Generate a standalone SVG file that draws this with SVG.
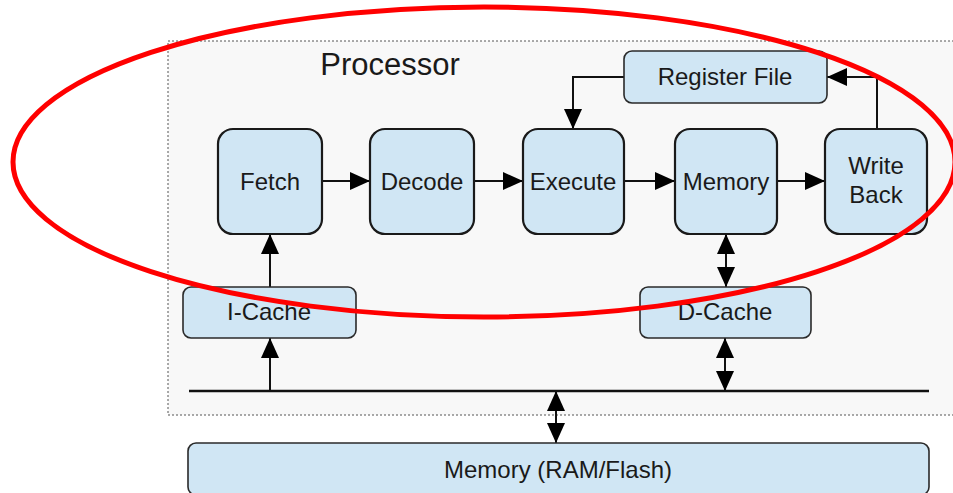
<svg xmlns="http://www.w3.org/2000/svg" width="953" height="493" viewBox="0 0 953 493">
  <defs>
    <marker id="ah" markerUnits="userSpaceOnUse" markerWidth="22" markerHeight="18" refX="20" refY="9" orient="auto-start-reverse">
      <path d="M0,0 L20,9 L0,18 Z" fill="#000"/>
    </marker>
  </defs>
  <style>
    .stage { fill: #d0e6f4; stroke: #1a1a1a; stroke-width: 2.2; }
    .unit { fill: #d0e6f4; stroke: #2a2a2a; stroke-width: 1.6; }
    .lbl { font-family: "Liberation Sans", Arial, sans-serif; font-size: 24px; fill: #1a1a1a; text-anchor: middle; }
    .wire { fill: none; stroke: #111; stroke-width: 2; }
  </style>
  <rect width="953" height="493" fill="#fff"/>

  <!-- processor boundary -->
  <g id="processor">
    <rect x="168" y="41" width="790" height="374" fill="#f8f8f8" stroke="#555" stroke-width="1" stroke-dasharray="2,2"/>
    <text x="390" y="75" class="lbl" style="font-size:31px">Processor</text>
  </g>

  <!-- connectors -->
  <g id="connectors">
    <path class="wire" d="M322,181 H370" marker-end="url(#ah)"/>
    <path class="wire" d="M474,181 H523" marker-end="url(#ah)"/>
    <path class="wire" d="M624,181 H675" marker-end="url(#ah)"/>
    <path class="wire" d="M777,181 H825" marker-end="url(#ah)"/>
    <path class="wire" d="M624,77 H573 V129" marker-end="url(#ah)"/>
    <path class="wire" d="M877,129 V77 H827" marker-end="url(#ah)"/>
    <path class="wire" d="M726,234 V287" marker-start="url(#ah)" marker-end="url(#ah)"/>
    <path class="wire" d="M270,287 V234" marker-end="url(#ah)"/>
    <path class="wire" d="M270,391 V338" marker-end="url(#ah)"/>
    <path class="wire" d="M725,338 V391" marker-start="url(#ah)" marker-end="url(#ah)"/>
    <path class="wire" d="M556,391 V443" marker-start="url(#ah)" marker-end="url(#ah)"/>
    <path id="bus" d="M189,391 H929" fill="none" stroke="#111" stroke-width="2.6"/>
  </g>

  <g id="fetch">
    <rect class="stage" x="218" y="129" width="104" height="105" rx="15"/>
    <text class="lbl" x="270" y="190">Fetch</text>
  </g>
  <g id="decode">
    <rect class="stage" x="370" y="129" width="104" height="105" rx="15"/>
    <text class="lbl" x="422" y="190">Decode</text>
  </g>
  <g id="execute">
    <rect class="stage" x="523" y="129" width="101" height="105" rx="15"/>
    <text class="lbl" x="573" y="190">Execute</text>
  </g>
  <g id="memory-stage">
    <rect class="stage" x="675" y="129" width="102" height="105" rx="15"/>
    <text class="lbl" x="726" y="190">Memory</text>
  </g>
  <g id="write-back">
    <rect class="stage" x="825" y="129" width="102" height="105" rx="15"/>
    <text class="lbl" x="876" y="174">Write</text>
    <text class="lbl" x="876" y="203">Back</text>
  </g>
  <g id="register-file">
    <rect class="unit" x="624" y="51" width="203" height="52" rx="8"/>
    <text class="lbl" x="725" y="85">Register File</text>
  </g>
  <g id="i-cache">
    <rect class="unit" x="183" y="287" width="173" height="51" rx="8"/>
    <text class="lbl" x="269" y="320">I-Cache</text>
  </g>
  <g id="d-cache">
    <rect class="unit" x="640" y="287" width="171" height="51" rx="8"/>
    <text class="lbl" x="725" y="320">D-Cache</text>
  </g>
  <g id="main-memory">
    <rect class="unit" x="188" y="443" width="741" height="52" rx="8"/>
    <text class="lbl" x="558" y="478">Memory (RAM/Flash)</text>
  </g>

  <!-- highlight around the pipeline -->
  <ellipse cx="484" cy="162" rx="471" ry="155" fill="none" stroke="#ff0000" stroke-width="5"/>
</svg>
